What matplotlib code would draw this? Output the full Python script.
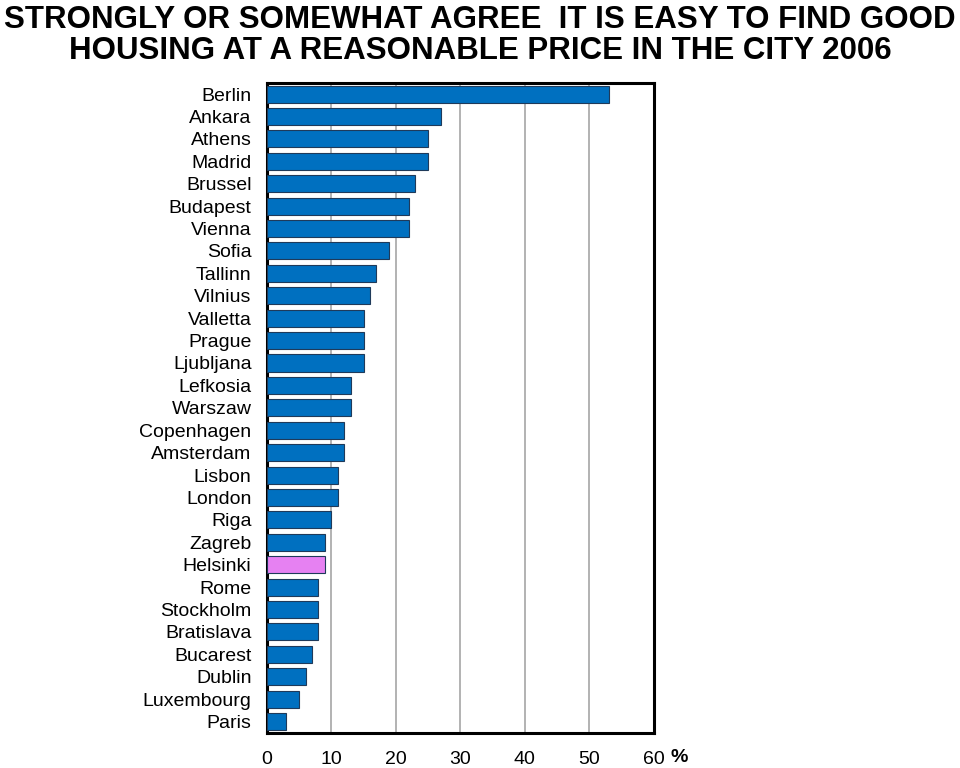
#!/usr/bin/env python3
import numpy as np
import matplotlib.pyplot as plt
from matplotlib import font_manager

cities = ["Berlin", "Ankara", "Athens", "Madrid", "Brussel", "Budapest", "Vienna",
          "Sofia", "Tallinn", "Vilnius", "Valletta", "Prague", "Ljubljana", "Lefkosia",
          "Warszaw", "Copenhagen", "Amsterdam", "Lisbon", "London", "Riga", "Zagreb",
          "Helsinki", "Rome", "Stockholm", "Bratislava", "Bucarest", "Dublin",
          "Luxembourg", "Paris"]
values = [53, 27, 25, 25, 23, 22, 22, 19, 17, 16, 15, 15, 15, 13, 13, 12, 12, 11, 11,
          10, 9, 9, 8, 8, 8, 7, 6, 5, 3]
highlight = "Helsinki"
xticks = [0, 10, 20, 30, 40, 50, 60]

title = ("STRONGLY OR SOMEWHAT AGREE  IT IS EASY TO FIND GOOD\n"
         "HOUSING AT A REASONABLE PRICE IN THE CITY 2006")

##########################################################################
names = {f.name for f in font_manager.fontManager.ttflist}
title_font = "Liberation Sans Narrow" if "Liberation Sans Narrow" in names else "Liberation Sans"
plt.rcParams['font.family'] = ['Liberation Sans', 'DejaVu Sans']

fig = plt.figure(figsize=(9.6, 7.68), dpi=100)
ax = fig.add_axes([0.278, 0.046, 0.403, 0.846])

colors = ["#E681F2" if c == highlight else "#0070C0" for c in cities]
y = np.arange(len(cities))
ax.barh(y, values, height=0.76, color=colors, edgecolor="#1F3A5A", linewidth=0.8, zorder=3)

ax.set_xlim(0, 60)
ax.set_ylim(len(cities) - 0.5, -0.5)
ax.set_xticks(xticks)
ax.set_xticklabels([str(t) for t in xticks], fontsize=14)
ax.set_yticks(y)
ax.set_yticklabels(cities, fontsize=14)
ax.tick_params(axis="y", length=0, pad=11)
ax.tick_params(axis="x", length=0, pad=13)
ax.xaxis.grid(True, color="#A6A6A6", linewidth=1.2, zorder=0)
ax.set_axisbelow(True)
for s in ax.spines.values():
    s.set_linewidth(2.2)
    s.set_color("black")

fig.text(0.708, 0.002, "%", fontsize=14, fontweight="bold", ha="center", va="bottom")
fig.text(0.5, 0.994, title, fontsize=22.5, fontweight="bold", family=title_font,
         ha="center", va="top", linespacing=1.08)

fig.savefig("out.png", dpi=100)
plt.close()
